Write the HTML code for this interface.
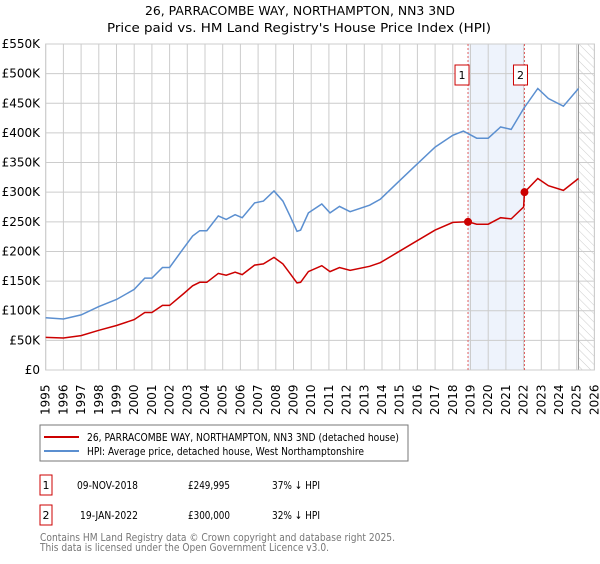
<!DOCTYPE html>
<html><head><meta charset="utf-8"><style>
body{margin:0;background:#fff;font-family:"DejaVu Sans","Liberation Sans",sans-serif;}
svg text{font-family:"DejaVu Sans","Liberation Sans",sans-serif;}
</style></head><body>
<svg id="chart" width="600" height="560" xmlns="http://www.w3.org/2000/svg">
<defs><pattern id="hatch" width="6" height="6" patternUnits="userSpaceOnUse" patternTransform="rotate(-45)"><line x1="0" y1="0" x2="0" y2="6" stroke="#ccc" stroke-width="1"/></pattern></defs>
<text x="145" y="15" font-size="12.5" textLength="310" lengthAdjust="spacingAndGlyphs">26, PARRACOMBE WAY, NORTHAMPTON, NN3 3ND</text>
<text x="107" y="32" font-size="12.5" textLength="384" lengthAdjust="spacingAndGlyphs">Price paid vs. HM Land Registry's House Price Index (HPI)</text>
<g id="grid"></g><g id="marks"></g><g id="axes"></g>
<rect x="40" y="425" width="368" height="36" fill="#fff" stroke="#777"/>
<line x1="44" y1="437" x2="79" y2="437" stroke="#cc0000" stroke-width="2"/>
<text x="87" y="441" font-size="11" textLength="312" lengthAdjust="spacingAndGlyphs">26, PARRACOMBE WAY, NORTHAMPTON, NN3 3ND (detached house)</text>
<line x1="44" y1="451" x2="79" y2="451" stroke="#5b8fd0" stroke-width="2"/>
<text x="87" y="455" font-size="11" textLength="277" lengthAdjust="spacingAndGlyphs">HPI: Average price, detached house, West Northamptonshire</text>
<g>
<rect x="40" y="475" width="12" height="20" fill="#fff" stroke="#cc0000"/><text x="46" y="489" text-anchor="middle" font-size="11">1</text>
<text x="77" y="489" font-size="11" textLength="61" lengthAdjust="spacingAndGlyphs">09-NOV-2018</text><text x="188" y="489" font-size="11" textLength="42" lengthAdjust="spacingAndGlyphs">£249,995</text><text x="272" y="489" font-size="11" textLength="48" lengthAdjust="spacingAndGlyphs">37% ↓ HPI</text></g>
<g>
<rect x="40" y="505" width="12" height="20" fill="#fff" stroke="#cc0000"/><text x="46" y="519" text-anchor="middle" font-size="11">2</text>
<text x="80" y="519" font-size="11" textLength="58" lengthAdjust="spacingAndGlyphs">19-JAN-2022</text><text x="188" y="519" font-size="11" textLength="42" lengthAdjust="spacingAndGlyphs">£300,000</text><text x="272" y="519" font-size="11" textLength="48" lengthAdjust="spacingAndGlyphs">32% ↓ HPI</text></g>
<text x="40" y="541" font-size="11" fill="#777" textLength="355" lengthAdjust="spacingAndGlyphs">Contains HM Land Registry data © Crown copyright and database right 2025.</text>
<text x="40" y="551" font-size="11" fill="#777" textLength="289" lengthAdjust="spacingAndGlyphs">This data is licensed under the Open Government Licence v3.0.</text>
</svg>
<script>
const yTicks=[0,50,100,150,200,250,300,350,400,450,500,550];
const yTickLabels=["£0","£50K","£100K","£150K","£200K","£250K","£300K","£350K","£400K","£450K","£500K","£550K"];
const xYears=[1995,1996,1997,1998,1999,2000,2001,2002,2003,2004,2005,2006,2007,2008,2009,2010,2011,2012,2013,2014,2015,2016,2017,2018,2019,2020,2021,2022,2023,2024,2025,2026];
const hpiDates=[1995,1996,1997,1998,1999,2000,2000.6,2001,2001.6,2002,2002.8,2003.3,2003.7,2004.1,2004.75,2005.2,2005.7,2006.1,2006.8,2007.3,2007.9,2008.4,2008.8,2009.2,2009.4,2009.84,2010.6,2011.06,2011.6,2012.2,2013.3,2013.9,2014.8,2015.75,2017,2018,2018.6,2019.35,2020,2020.7,2021.3,2022,2022.8,2023.4,2024.25,2025.1];
const hpiValues=[88,86,93,107,119,136,155,155,173,173,206,226,235,235,260,254,262,257,282,285,302,285,260,234,236,265,280,265,276,267,278,288,314,341,376,396,403,391,391,410,406,441,475,458,445,475];
const priceDates=[1995,1996,1997,1998,1999,2000,2000.6,2001,2001.6,2002,2002.8,2003.3,2003.7,2004.1,2004.75,2005.2,2005.7,2006.1,2006.8,2007.3,2007.9,2008.4,2008.8,2009.2,2009.4,2009.84,2010.6,2011.06,2011.6,2012.2,2013.3,2013.9,2014.8,2015.75,2017,2018,2018.86,2019.35,2020,2020.7,2021.3,2022.0,2022.05,2022.8,2023.4,2024.25,2025.1];
const priceValues=[55,54,58,67,75,85,97,97,109,109,129,142,148,148,163,160,165,161,177,179,190,179,163,147,148,166,176,166,173,168,175,181,197,214,236,249,250,246,246,257,255,275,300,323,311,303,323];
const saleDates=[2018.86,2022.05];
const saleValues=[249.995,300];
const saleLabels=["1","2"];
const X0=45.7,X1=594.4,Y0=370,Y1=44;
const x=t=>X0+(t-1995)/(2026-1995)*(X1-X0);
const y=v=>Y0-v/550*(Y0-Y1);
const NS="http://www.w3.org/2000/svg";
function mk(tag,attrs,parent){const e=document.createElementNS(NS,tag);for(const k in attrs)e.setAttribute(k,attrs[k]);parent.appendChild(e);return e;}
const grid=document.getElementById('grid'),marks=document.getElementById('marks'),axes=document.getElementById('axes');
mk('rect',{x:x(saleDates[0]),y:Y1,width:x(saleDates[1])-x(saleDates[0]),height:Y0-Y1,fill:'#eef3fc'},grid);
mk('rect',{x:x(2025.1),y:Y1,width:X1-x(2025.1),height:Y0-Y1,fill:'url(#hatch)'},grid);
yTicks.forEach((v,i)=>{const l=mk('line',{x1:X0,x2:X1,y1:y(v),y2:y(v),stroke:'#ccc'},grid);

const t=mk('text',{x:40,y:y(v)+4,'text-anchor':'end','font-size':'12'},axes);t.textContent=yTickLabels[i];

});
xYears.forEach(yr=>{const l=mk('line',{x1:x(yr),x2:x(yr),y1:Y1,y2:Y0,stroke:'#ccc'},grid);

const t=mk('text',{x:0,y:0,'font-size':'12',transform:`translate(${x(yr)+4},415) rotate(-90)`},axes);t.textContent=yr;

});
mk('line',{x1:x(2025.1),x2:x(2025.1),y1:Y1,y2:Y0,stroke:'#999'},grid);
saleDates.forEach((d,i)=>{const l=mk('line',{x1:x(d),x2:x(d),y1:Y1,y2:Y0,stroke:'#e06060','stroke-dasharray':'2,2'},marks);

const bx=x(d)-(i==0?6:4)-7;
const r=mk('rect',{x:bx,y:65,width:14,height:20,fill:'#fff',stroke:'#cc0000'},marks);

const t=mk('text',{x:bx+7,y:79,'text-anchor':'middle','font-size':'11'},marks);t.textContent=saleLabels[i];});
const pts=(ds,vs)=>ds.map((d,i)=>x(d).toFixed(1)+','+y(vs[i]).toFixed(1)).join(' ');
const h=mk('polyline',{points:pts(hpiDates,hpiValues),fill:'none',stroke:'#5b8fd0','stroke-width':1.5},marks);

const p=mk('polyline',{points:pts(priceDates,priceValues),fill:'none',stroke:'#cc0000','stroke-width':1.5},marks);

saleDates.forEach((d,i)=>{const c=mk('circle',{cx:x(d),cy:y(saleValues[i]),r:4,fill:'#cc0000'},marks);
});
mk('rect',{x:X0,y:Y1,width:X1-X0,height:Y0-Y1,fill:'none',stroke:'#ccc'},grid);
</script>
</body></html>
